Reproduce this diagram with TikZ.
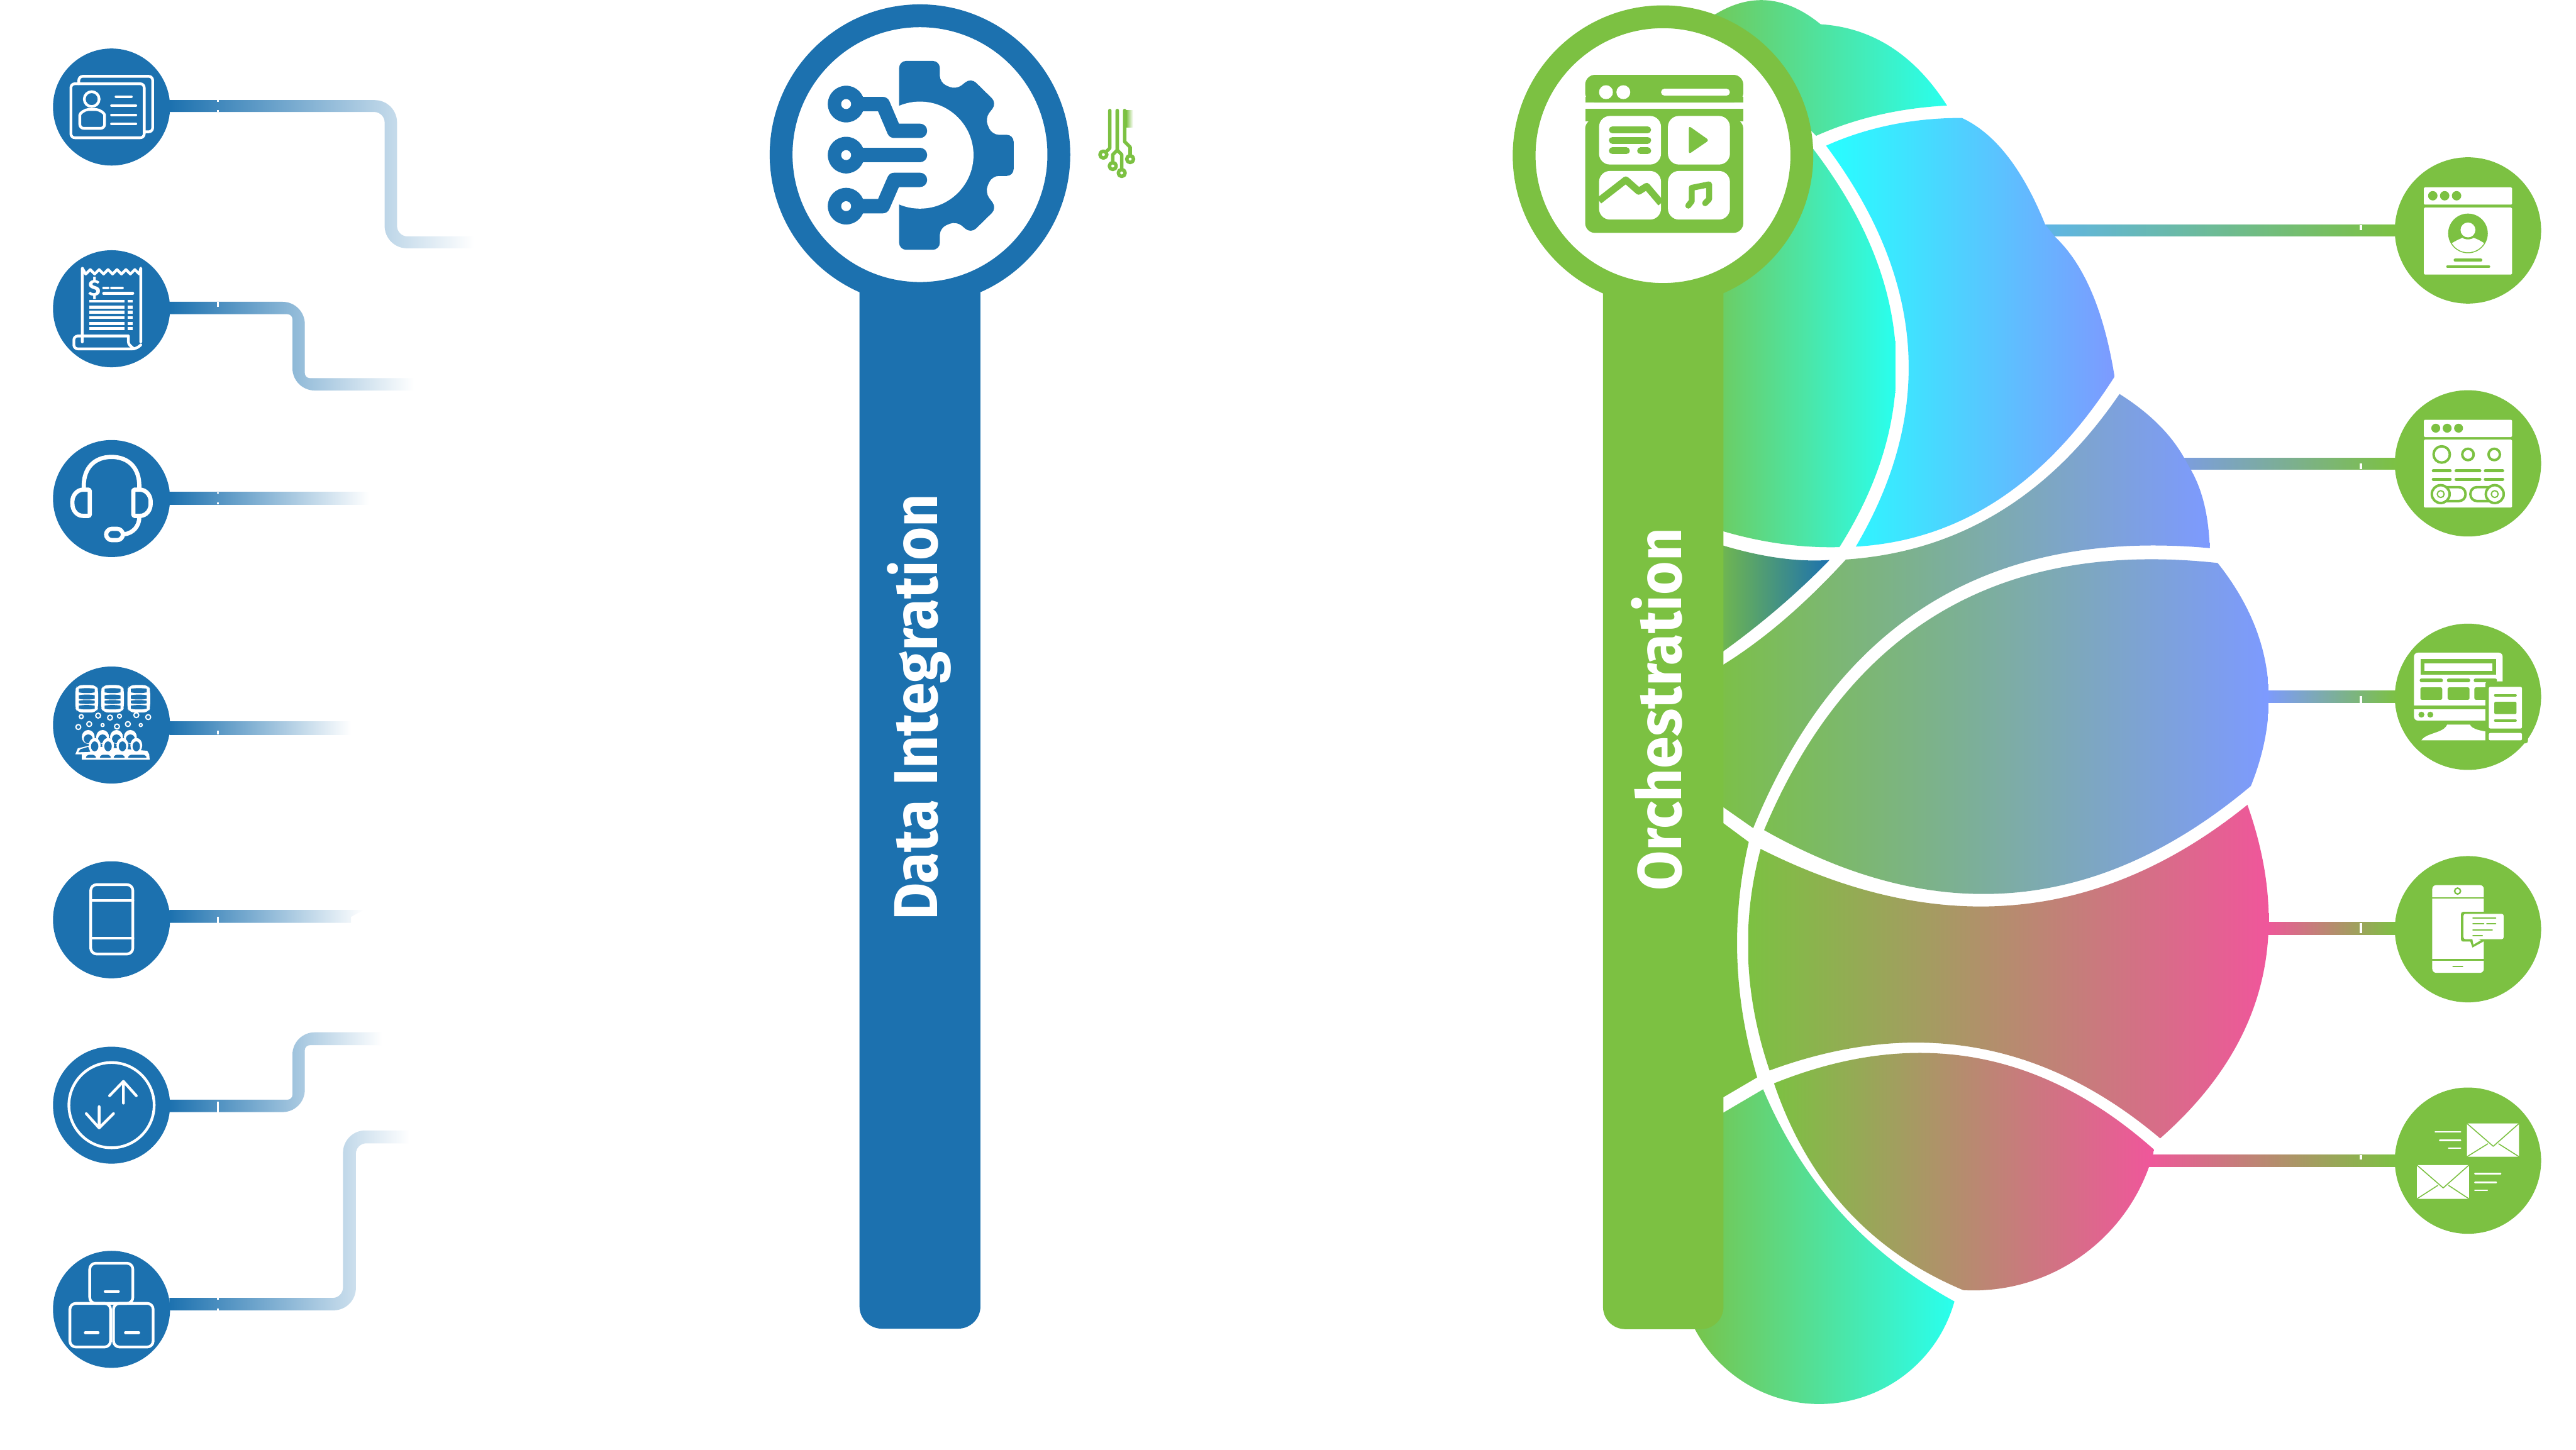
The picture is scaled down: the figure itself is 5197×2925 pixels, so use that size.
\documentclass[tikz,border=0pt]{standalone}
\usepackage{fontspec}
\usepackage{graphicx}
\setmainfont{Fira Sans}
\usetikzlibrary{calc}
\definecolor{blu}{HTML}{1C71AF}
\definecolor{grn}{HTML}{7CC142}
\definecolor{cya}{HTML}{29FFEE}
\definecolor{cyb}{HTML}{27FFFF}
\definecolor{per}{HTML}{7D9AFF}
\definecolor{pnk}{HTML}{F0569B}
\definecolor{ska}{HTML}{5FB5E6}
\definecolor{skb}{HTML}{7C9DE0}
% quadratic-style arc from #1 through #2 to #3; the current point must be #1
\newcommand{\qa}[3]{.. controls ($1.3333*(#2)-0.3333*(#3)$) and ($1.3333*(#2)-0.3333*(#1)$) .. (#3)}
% lobe: horizontal gradient #1 -> #2 between x=#3 and x=#4, clipped to the outline #5
\newcommand{\lobe}[5]{\begin{scope}\clip #5;\shade[left color=#1,right color=#2] (#3,0) rectangle (#4,2925);\end{scope}}
\tikzset{
  hubc/.style={circle,draw=#1,line width=0.46cm,fill=white,minimum size=5.6cm,inner sep=0pt},
  lc/.style={circle,fill=blu,minimum size=2.36cm,inner sep=0pt},
  rc/.style={circle,fill=grn,minimum size=2.95cm,inner sep=0pt},
  wl/.style={draw=white,line width=0.055cm,line join=round,line cap=round},
  gl/.style={draw=grn,line cap=round,line join=round},
  tick/.style={fill=white},
  fadeb/.style={left color=blu,right color=white},
  title/.style={rotate=90,anchor=base west,text=white,font=\fontsize{35.5}{36}\selectfont\bfseries,inner sep=0pt}
}
\begin{document}
\begin{tikzpicture}[x=0.01cm,y=-0.01cm]
\useasboundingbox (0,0) rectangle (5197,2925);
\fill[white] (0,0) rectangle (5197,2925);

% ---------- right circles and connectors ----------
\coordinate (e1) at (4120,465);
\coordinate (e2) at (4400,936);
\coordinate (e3) at (4570,1406);
\coordinate (e4) at (4570,1873);
\coordinate (e5) at (4330,2342);
\node[rc] (r1) at (4979,465) {};
\node[rc] (r2) at (4979,935) {};
\node[rc] (r3) at (4979,1406) {};
\node[rc] (r4) at (4979,1875) {};
\node[rc] (r5) at (4979,2342) {};
\shade[left color=ska,right color=grn] ($(e1)+(0,-12)$) rectangle ($(r1.west)+(5,12)$);
\shade[left color=skb,right color=grn] ($(e2)+(0,-12)$) rectangle ($(r2.west)+(5,12)$);
\shade[left color=per,right color=grn] ($(e3)+(0,-12)$) rectangle ($(r3.west)+(5,12)$);
\shade[left color=pnk,right color=grn] ($(e4)+(0,-12)$) rectangle ($(r4.west)+(5,11)$);
\shade[left color=pnk,right color=grn] ($(e5)+(0,-12)$) rectangle ($(r5.west)+(5,12)$);
\foreach \ta/\tb/\tc in {454/465/4761,935/947/4761,1404/1418/4761,1862/1883/4761,2331/2340/4761}
  \fill[tick] (\tc,\ta) rectangle (\tc+4,\tb);

% ---------- brain lobes ----------
\lobe{grn}{cya}{3375}{3928}{(3462,28) \qa{3462,28}{3568,1}{3673,49}
  \qa{3673,49}{3815,95}{3928,213}
  \qa{3928,213}{3790,232}{3664,274}
  -- (3640,250) -- (3375,250) -- (3375,60) -- cycle}
\lobe{grn}{cya}{3385}{3824}{(3650,290) \qa{3650,290}{3824,697}{3711,1104}
  \qa{3711,1104}{3550,1090}{3385,1040} -- (3385,290) -- cycle}
\lobe{cyb}{per}{3684}{4266}{(3684,294) \qa{3684,294}{3849,697}{3744,1103}
  \qa{3744,1103}{4032,1008}{4266,760}
  \qa{4266,760}{4220,590}{4146,478}
  -- (4126,453) \qa{4126,453}{4050,315}{3958,238}
  \qa{3958,238}{3815,252}{3684,294} -- cycle}
\lobe{grn}{blu}{3440}{3691}{(3477,1101) \qa{3477,1101}{3590,1126}{3691,1130}
  \qa{3691,1130}{3590,1225}{3477,1314}
  -- (3440,1336) -- (3440,1088) -- cycle}
\lobe{grn}{per}{3440}{4458}{(3477,1341) \qa{3477,1341}{3600,1250}{3724,1129}
  \qa{3724,1129}{4032,1034}{4276,795}
  \qa{4276,795}{4354,856}{4407,925}
  -- (4420,948) \qa{4420,948}{4447,1018}{4458,1106}
  \qa{4458,1106}{3895,1217}{3537,1671}
  -- (3477,1629) -- (3440,1600) -- (3440,1360) -- cycle}
\lobe{grn}{per}{3477}{4576}{(4474,1136) \qa{4474,1136}{3916,1235}{3559,1675}
  \qa{3559,1675}{4066,1801}{4541,1586}
  \qa{4541,1586}{4573,1352}{4474,1136} -- cycle}
\lobe{grn}{pnk}{3527}{4577}{(3552,1713) \qa{3552,1713}{4066,1826}{4534,1624}
  \qa{4534,1624}{4560,1990}{4358,2297}
  \qa{4358,2297}{3985,2114}{3570,2160}
  \qa{3570,2160}{3527,1935}{3552,1713} -- cycle}
\lobe{grn}{pnk}{3579}{4345}{(3579,2186) \qa{3579,2186}{3983,2134}{4346,2320}
  arc[start angle=14.2,end angle=93.2,radius=376]
  \qa{3961,2603}{3725,2440}{3579,2186} -- cycle}
\lobe{grn}{cya}{3385}{3943}{(3477,2245) -- (3557,2198) \qa{3557,2198}{3713,2446}{3943,2626}
  arc[start angle=15.65,end angle=152.1,radius=283.5]
  -- (3385,2640) -- (3385,2270) -- cycle}
% green sliver between the bar and the middle lobes
\fill[grn] (3470,1656) -- (3528,1699) \qa{3528,1699}{3505,1935}{3545,2174} -- (3470,2218) -- cycle;

% ---------- hubs and bars ----------
\fill[blu,rounded corners=0.45cm] (1734,300) rectangle (1978,2681);
\fill[grn,rounded corners=0.45cm] (3234,300) rectangle (3477,2682);
\node[hubc=blu] (hubA) at (1856,312) {};
\node[hubc=grn] (hubB) at (3355,314) {};
\node[title] (tA) at (1891,1858) {\resizebox{8.6cm}{\height}{Data Integration}};
\node[title] (tB) at (3392,1798) {\resizebox{7.31cm}{\height}{Orchestration}};

% gear icon
\fill[blu,rounded corners=0.14cm] (1814,300) -- (1814,123) -- (1896,123) -- (1896,167) -- (1929,181)
  -- (1959,157) -- (2011,208) -- (1987,239) -- (2001,272) -- (2045,272) -- (2045,355) -- (2001,355)
  -- (1987,388) -- (2011,420) -- (1959,471) -- (1929,446) -- (1896,460) -- (1896,504) -- (1814,504) -- cycle;
\fill[white] (1856,313) circle (108);
\fill[white] (1790,230) rectangle (1813.5,400);
\draw[blu,line width=0.29cm,line cap=round,line join=round] (1707,210) -- (1781,210) -- (1804,264) -- (1856,264);
\draw[blu,line width=0.29cm,line cap=round,line join=round] (1707,313) -- (1856,313);
\draw[blu,line width=0.29cm,line cap=round,line join=round] (1707,416) -- (1781,416) -- (1804,363) -- (1856,363);
\foreach \wy in {210,313,416} {
  \fill[blu] (1707,\wy) circle (37);
  \fill[white] (1707,\wy) circle (10);
}

% small circuit glyph
\begin{scope}[gl,line width=0.07cm]
  \draw (2239,223) -- (2239,299) -- (2226,312);
  \draw (2254,223) -- (2254,303) -- (2245,312) -- (2245,335);
  \draw (2254,303) -- (2263,312) -- (2263,349);
  \draw (2269,223) -- (2269,286) -- (2280,297) -- (2280,321);
  \foreach \gx/\gy in {2226/312,2245/335,2263/349,2280/321} \draw[fill=white] (\gx,\gy) circle (7);
\end{scope}
\shade[left color=grn,right color=white] (2272,223) rectangle (2286,257);

% orchestration hub icon
\fill[grn,rounded corners=0.2cm] (3198,207) -- (3198,151) -- (3517,151) -- (3517,207) -- cycle;
\fill[grn] (3198,207) rectangle (3517,195);
\fill[grn,rounded corners=0.2cm] (3198,240) -- (3198,470) -- (3517,470) -- (3517,240) -- cycle;
\fill[grn] (3198,220) rectangle (3517,245);
\fill[white] (3240,186) circle (14) (3275,186) circle (14);
\fill[white,rounded corners=0.07cm] (3351,179) rectangle (3490,193);
\foreach \px/\py in {3226/234,3365/234,3226/345,3365/345}
  \fill[white,rounded corners=0.22cm] (\px,\py) rectangle ++(125,98);
\begin{scope}[gl,line width=0.14cm]
  \draw (3253,262) -- (3324,262);
  \draw (3253,283) -- (3324,283);
  \draw (3253,304) -- (3281,304);
  \draw (3310,304) -- (3324,304);
\end{scope}
\fill[grn,rounded corners=0.05cm] (3407,254) -- (3448,283) -- (3407,311) -- cycle;
\draw[gl,line width=0.14cm,line cap=butt] (3226,405) -- (3280,363) -- (3306,386) -- (3322,376) -- (3351,410);
\draw[gl,line width=0.12cm] (3406,415) -- (3413,406) -- (3413,379) -- (3448,372) -- (3448,402) -- (3440,410);

% ---------- left circles ----------
\node[lc] (l1) at (225,216) {};
\node[lc] (l2) at (225,623) {};
\node[lc] (l3) at (225,1006) {};
\node[lc] (l4) at (225,1463) {};
\node[lc] (l5) at (225,1856) {};
\node[lc] (l6) at (225,2230) {};
\node[lc] (l7) at (225,2642) {};

\shade[fadeb]
  ($(l1.east)+(-2,-14)$) [rounded corners=0.45cm] -- (801,202) [rounded corners=0.21cm] -- (801,477) [sharp corners] -- (956,477) -- (956,501)
  [rounded corners=0.45cm] -- (776,501) [rounded corners=0.21cm] -- (776,226) [sharp corners] -- ($(l1.east)+(-2,10)$) -- cycle;
\shade[fadeb]
  ($(l2.east)+(-2,-14)$) [rounded corners=0.45cm] -- (615,609) [rounded corners=0.1cm] -- (615,763) [sharp corners] -- (835,763) -- (835,788)
  [rounded corners=0.45cm] -- (590,788) [rounded corners=0.1cm] -- (590,634) [sharp corners] -- ($(l2.east)+(-2,11)$) -- cycle;
\shade[fadeb] ($(l3.east)+(-2,-13)$) rectangle (744,1018);
\shade[fadeb] ($(l4.east)+(-2,-7)$) rectangle (708,1482);
\shade[fadeb] ($(l5.east)+(-2,-20)$) -- (734,1836) -- (708,1850) -- (708,1862) -- ($(l5.east)+(-2,6)$) -- cycle;
\shade[fadeb]
  ($(l6.east)+(-2,14)$) [rounded corners=0.45cm] -- (615,2244) [rounded corners=0.1cm] -- (615,2109) [sharp corners] -- (771,2109) -- (771,2083)
  [rounded corners=0.45cm] -- (590,2083) [rounded corners=0.1cm] -- (590,2219) [sharp corners] -- ($(l6.east)+(-2,-11)$) -- cycle;
\shade[fadeb]
  ($(l7.east)+(-2,2)$) [rounded corners=0.45cm] -- (718,2644) [rounded corners=0.21cm] -- (718,2307) [sharp corners] -- (826,2307) -- (826,2281)
  [rounded corners=0.45cm] -- (692,2281) [rounded corners=0.21cm] -- (692,2619) [sharp corners] -- ($(l7.east)+(-2,-23)$) -- cycle;
\foreach \ta/\tb in {202/205,222/226,609/619,993/996,1014/1018,1474/1482,1850/1862,2223/2244,2619/2622,2640/2644}
  \fill[tick] (438,\ta) rectangle (442,\tb);

% icon 1: contact cards
\begin{scope}[wl]
  \draw[rounded corners=0.08cm] (143,169) rectangle (291,278);
  \draw[rounded corners=0.08cm] (159,169) -- (159,154) -- (308,154) -- (308,266) -- (291,266);
  \draw (185,200) circle (15);
  \draw[rounded corners=0.08cm] (161,259) -- (161,240) .. controls (161,228) and (172,221) .. (186,221) .. controls (200,221) and (211,228) .. (211,240) -- (211,259) -- cycle;
  \draw (234,195) -- (265,195);
  \draw (225,213) -- (274,213);
  \draw (225,232) -- (274,232);
  \draw (225,250) -- (274,250);
\end{scope}

% icon 2: receipt
\begin{scope}[wl]
  \draw (166,690) -- (166,541) -- (173,553) -- (182,544) -- (191,553) -- (200,544) -- (209,553) -- (218,544) -- (227,553) -- (236,544) -- (245,553) -- (254,544) -- (263,553) -- (272,544) -- (281,553) -- (284,541) -- (284,690);
  \draw[rounded corners=0.08cm] (259,678) -- (149,678) -- (149,704) -- (275,704) -- (284,696);
  \draw[rounded corners=0.04cm] (259,678) -- (259,694) -- (270,704);
  \draw (209,581) -- (218,581) (225,581) -- (247,581) (209,592) -- (268,592);
  \foreach \ry in {608,620,630,641,653,663} \draw[line cap=butt] (180,\ry) -- (251,\ry) (257,\ry) -- (268,\ry);
\end{scope}
\node[text=white,font=\fontsize{13}{13}\selectfont\bfseries,inner sep=0pt] (dol) at (191,582) {\$};

% icon 3: headset
\begin{scope}[wl,line width=0.085cm]
  \draw (169,985) -- (169,980) .. controls (169,945) and (190,922) .. (225,922) .. controls (260,922) and (281,945) .. (281,980) -- (281,985);
  \draw[rounded corners=0.02cm] (181,988) -- (170,988) .. controls (155,988) and (146,1000) .. (146,1014) .. controls (146,1030) and (155,1041) .. (170,1041) -- (181,1041) -- cycle;
  \draw[rounded corners=0.02cm] (269,988) -- (280,988) .. controls (295,988) and (304,1000) .. (304,1014) .. controls (304,1030) and (295,1041) .. (280,1041) -- (269,1041) -- cycle;
  \draw (281,1044) .. controls (281,1062) and (268,1076) .. (251,1078);
  \draw[rounded corners=0.12cm] (214,1067) rectangle (248,1090);
\end{scope}

% icon 4: databases and people
\foreach \dx in {175,227,280} {
  \fill[white,rounded corners=0.08cm] (\dx-20,1384) .. controls (\dx-8,1382) and (\dx+8,1382) .. (\dx+20,1384) -- (\dx+23,1392) -- (\dx+23,1428) -- (\dx+20,1436) .. controls (\dx+8,1438) and (\dx-8,1438) .. (\dx-20,1436) -- (\dx-23,1428) -- (\dx-23,1392) -- cycle;
  \foreach \yu/\yv in {1390/1397,1403/1410,1414/1419,1424/1430}
    \fill[blu] (\dx-16,\yu) .. controls (\dx-8,\yu-2) and (\dx+8,\yu-2) .. (\dx+16,\yu) -- (\dx+16,\yv) .. controls (\dx+8,\yv+2) and (\dx-8,\yv+2) .. (\dx-16,\yv) -- cycle;
}
\foreach \bx/\by/\br in {164/1446/4,198/1444/5,222/1448/5,241/1445/4,275/1443/5,299/1447/5,158/1467/5,180/1461/5,207/1463/3,236/1466/5,258/1461/5,284/1463/3}
  \draw[white,line width=0.025cm] (\bx,\by) circle (\br);
\foreach \hx in {178,207,235,263} { \fill[white] (\hx,1487) ellipse (13 and 14); \fill[blu] (\hx,1491) ellipse (9 and 9); }
\fill[white] (152,1522) -- (157,1510) -- (178,1505) -- (297,1515) -- (301,1522) -- (302,1533) -- (165,1533) -- (165,1522) -- cycle;
\foreach \hx in {191,218,247,275} { \fill[white] (\hx,1504) ellipse (12 and 15); \fill[blu] (\hx,1506) ellipse (7.5 and 10); }
\fill[blu] (158,1518) -- (162,1512) -- (178,1507) -- (182,1517) -- cycle;
\foreach \ba/\bb in {172/195,200/225,228/253,257/297}
  \fill[blu,rounded corners=0.03cm] (\ba,1529) -- (\ba+5,1523) -- (\bb-5,1523) -- (\bb,1529) -- cycle;

% icon 5: phone
\begin{scope}[wl]
  \draw[rounded corners=0.12cm] (183,1785) rectangle (268,1925);
  \draw (183,1817) -- (268,1817) (183,1893) -- (268,1893);
\end{scope}

% icon 6: arrows
\begin{scope}[wl]
  \draw (225,2230) circle (86);
  \draw (249,2185) -- (249,2226) (221,2211) -- (249,2182) -- (275,2211);
  \draw (200,2233) -- (200,2274) (174,2247) -- (200,2276) -- (229,2247);
\end{scope}

% icon 7: boxes
\begin{scope}[wl]
  \draw[rounded corners=0.12cm] (181,2549) rectangle (268,2630);
  \draw[rounded corners=0.12cm] (141,2630) rectangle (223,2718);
  \draw[rounded corners=0.12cm] (229,2630) rectangle (309,2718);
  \draw (212,2606) -- (239,2606) (172,2689) -- (198,2689) (253,2689) -- (280,2689);
\end{scope}

% ---------- right icons ----------
% r1
\fill[white,rounded corners=0.02cm] (4890,378) rectangle (5068,413) (4890,419) rectangle (5068,554);
\fill[grn] (4908,395) circle (9.5) (4932,395) circle (9.5) (4956,395) circle (9.5);
\fill[grn] (4979,471) circle (40);
\fill[white] (4979,464) circle (15);
\begin{scope}\clip (4979,471) circle (38);
  \fill[white] (4940,495) .. controls (4950,488) and (4962,482) .. (4968,480) .. controls (4972,484) and (4986,484) .. (4990,480) .. controls (4998,482) and (5008,488) .. (5018,495) -- (5018,515) -- (4940,515) -- cycle;
\end{scope}
\draw[gl,line width=0.06cm] (4953,525) -- (5005,525) (4938,538) -- (5021,538);
% r2
\fill[white,rounded corners=0.02cm] (4890,847) rectangle (5068,882) (4890,887) rectangle (5068,1024);
\fill[grn] (4914,864) circle (9) (4937,864) circle (9) (4960,864) circle (9);
\draw[gl,line width=0.05cm] (4926,917) circle (16.5) (4979,917) circle (11.5) (5032,917) circle (11.5);
\draw[gl,line width=0.06cm] (4909,950) -- (4943,950) (4955,950) -- (5003,950) (5014,950) -- (5049,950)
  (4909,967) -- (4943,967) (4955,967) -- (5003,967) (5014,967) -- (5049,967);
\draw[gl,line width=0.05cm,rounded corners=0.13cm] (4908,983) rectangle (4974,1011);
\draw[gl,line width=0.05cm,rounded corners=0.13cm] (4984,983) rectangle (5051,1011);
\foreach \tx in {4924,5033} {
  \fill[white] (\tx,997) circle (19);
  \draw[gl,line width=0.05cm] (\tx,997) circle (18);
  \draw[gl,line width=0.025cm] (\tx,997) circle (7);
}
% r3
\fill[white,rounded corners=0.08cm] (4870,1317) -- (5049,1317) -- (5049,1454) -- (4870,1454) -- cycle;
\fill[grn] (4883,1330) rectangle (5036,1361);
\fill[white] (4891,1338) rectangle (5028,1354);
\draw[gl,line width=0.07cm] (4885,1373) -- (4925,1373) (4940,1373) -- (4980,1373) (4994,1373) -- (5034,1373);
\fill[grn,rounded corners=0.03cm] (4883,1387) rectangle (4927,1412) (4938,1387) rectangle (4982,1412) (4992,1387) rectangle (5036,1412);
\fill[grn] (4870,1423) rectangle (5049,1431);
\fill[grn] (4885,1442) circle (6) (4903,1442) circle (6);
\fill[white] (4937,1462) -- (4983,1462) .. controls (4986,1472) and (5010,1475) .. (5014,1476) -- (5014,1494) -- (4885,1494) .. controls (4895,1478) and (4930,1480) .. (4937,1462) -- cycle;
\fill[grn,rounded corners=0.05cm] (5014,1375) rectangle (5100,1500);
\fill[white,rounded corners=0.03cm] (5021,1386) rectangle (5088,1470) (5021,1479) rectangle (5088,1494);
\draw[gl,line width=0.05cm] (5034,1403) -- (5075,1403) (5034,1454) -- (5075,1454);
\fill[grn,rounded corners=0.03cm] (5032,1416) rectangle (5077,1441);
% r4
\fill[white,rounded corners=0.08cm] (4907,1786) rectangle (5011,1963);
\draw[gl,line width=0.03cm] (4907,1812) -- (5011,1812) (4907,1937) -- (5011,1937);
\draw[grn,line width=0.03cm] (4958,1798) circle (6);
\draw[gl,line width=0.035cm] (4949,1950) -- (4968,1950);
\fill[grn,rounded corners=0.04cm] (4965,1840) rectangle (5015,1900);
\fill[grn] (4982,1895) -- (4988,1912) -- (5010,1900) -- cycle;
\fill[white,rounded corners=0.04cm] (4970,1844) rectangle (5051,1895);
\fill[white] (4987,1890) -- (4990,1906) -- (5005,1897) -- cycle;
\draw[gl,line width=0.025cm] (4989,1852) -- (5035,1852) (4989,1864) -- (5011,1864) (5017,1864) -- (5035,1864) (4989,1876) -- (5028,1876) (4989,1888) -- (5008,1888);
% r5
\fill[white] (4977,2267) rectangle (5082,2334) (4876,2351) rectangle (4981,2419);
\draw[gl,line width=0.02cm] (4977,2267) -- (5030,2313) -- (5082,2267) (4977,2334) -- (5019,2308) (5041,2308) -- (5082,2334);
\draw[gl,line width=0.02cm] (4876,2351) -- (4929,2397) -- (4981,2351) (4876,2419) -- (4918,2392) (4940,2392) -- (4981,2419);
\draw[wl,line width=0.03cm] (4913,2284) -- (4964,2284) (4922,2301) -- (4964,2301) (4940,2317) -- (4964,2317);
\draw[wl,line width=0.03cm] (4993,2368) -- (5045,2368) (4993,2386) -- (5036,2386) (4993,2402) -- (5018,2402);
\end{tikzpicture}
\end{document}
